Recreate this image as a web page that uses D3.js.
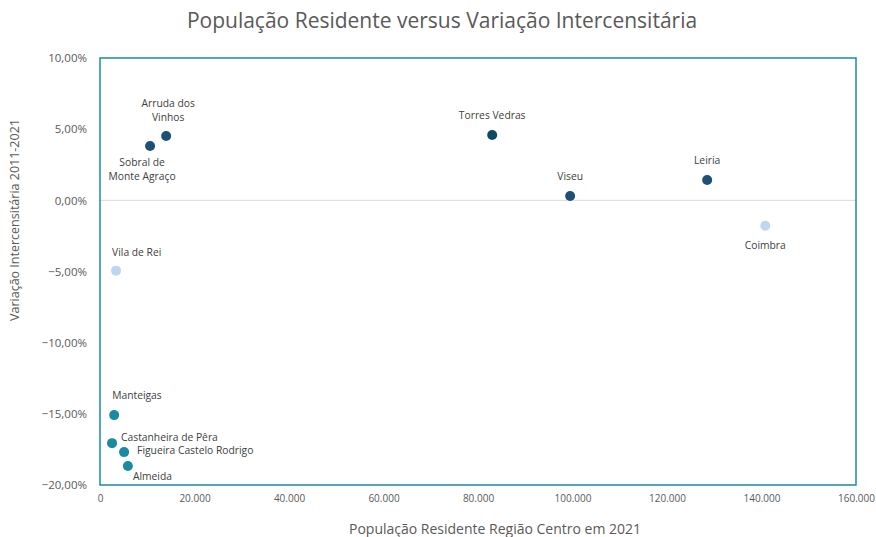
<!DOCTYPE html>
<html>
<head>
<meta charset="utf-8">
<script src="https://cdn.jsdelivr.net/npm/d3@7"></script>
<style>
  html, body { margin: 0; padding: 0; background: #fff; }
  svg { display: block; font-family: "Open Sans", "Noto Sans", sans-serif; }
</style>
</head>
<body>
<svg id="chart" width="876" height="537"></svg>
<script>
// Municipalities: resident population (2021) and intercensal change 2011-2021
const municipios = ["Arruda dos Vinhos", "Sobral de Monte Agraço", "Torres Vedras", "Viseu", "Leiria",
  "Coimbra", "Vila de Rei", "Manteigas", "Castanheira de Pêra", "Figueira Castelo Rodrigo", "Almeida"];
const populacao = [14000, 10600, 83000, 99500, 128500, 140800, 3400, 3000, 2550, 5100, 5900];
const variacao = [0.0452, 0.0382, 0.0459, 0.0030, 0.0143, -0.0178, -0.0494, -0.1509, -0.1706, -0.1769, -0.1867];
const grupo = ["a", "a", "b", "a", "a", "c", "c", "d", "d", "d", "d"];
const xTicks = [0, 20000, 40000, 60000, 80000, 100000, 120000, 140000, 160000];
const yTicks = [0.10, 0.05, 0, -0.05, -0.10, -0.15, -0.20];

// Marker colour per group
const cores = { a: "#1f4e79", b: "#0b4a63", c: "#bdd7ee", d: "#1a8aa0" };

// Label placement relative to each point: [dx, dy, anchor, lines]
const rotulos = {
  "Arruda dos Vinhos": [2, -32, "middle", ["Arruda dos", "Vinhos"]],
  "Sobral de Monte Agraço": [-8, 17, "middle", ["Sobral de", "Monte Agraço"]],
  "Torres Vedras": [0, -19, "middle", ["Torres Vedras"]],
  "Viseu": [0, -19, "middle", ["Viseu"]],
  "Leiria": [0, -19, "middle", ["Leiria"]],
  "Coimbra": [0, 20, "middle", ["Coimbra"]],
  "Vila de Rei": [-4, -18, "start", ["Vila de Rei"]],
  "Manteigas": [-2, -19, "start", ["Manteigas"]],
  "Castanheira de Pêra": [9, -5, "start", ["Castanheira de Pêra"]],
  "Figueira Castelo Rodrigo": [13, -1, "start", ["Figueira Castelo Rodrigo"]],
  "Almeida": [5, 11, "start", ["Almeida"]]
};

const svg = d3.select("#chart");
const m = { left: 100, right: 856, top: 58, bottom: 485 };

const x = d3.scaleLinear().domain([0, 160000]).range([m.left, m.right]);
const y = d3.scaleLinear().domain([-0.20, 0.10]).range([m.bottom, m.top]);

const fmtX = v => d3.format(",")(v).replace(/,/g, ".");
const fmtY = v => d3.format(".2f")(v * 100).replace(".", ",") + "%";

// Title
svg.append("text")
  .attr("x", 442).attr("y", 28)
  .attr("text-anchor", "middle")
  .attr("font-size", 21)
  .attr("fill", "#595959")
  .text("População Residente versus Variação Intercensitária");

// Zero reference line
svg.append("line")
  .attr("x1", m.left).attr("x2", m.right)
  .attr("y1", y(0)).attr("y2", y(0))
  .attr("stroke", "#d9d9d9").attr("stroke-width", 1);

// Y axis labels
const yAxis = d3.axisLeft(y).tickValues(yTicks).tickFormat(fmtY).tickSize(0).tickPadding(13);
const gy = svg.append("g").attr("transform", `translate(${m.left},0)`).call(yAxis);
gy.select(".domain").remove();
gy.selectAll("text").attr("font-size", 11.5).attr("fill", "#595959")
  .attr("font-family", "'Open Sans', sans-serif");

// X axis labels
const xAxis = d3.axisBottom(x).tickValues(xTicks).tickFormat(fmtX).tickSize(0).tickPadding(10);
const gx = svg.append("g").attr("transform", `translate(0,${m.bottom})`).call(xAxis);
gx.select(".domain").remove();
gx.selectAll("text").attr("font-size", 10).attr("fill", "#595959")
  .attr("font-family", "'Open Sans', sans-serif");

// Plot frame
svg.append("rect")
  .attr("x", m.left).attr("y", m.top)
  .attr("width", m.right - m.left).attr("height", m.bottom - m.top)
  .attr("fill", "none").attr("stroke", "#1a8ca3").attr("stroke-width", 1.5);

// Axis titles
svg.append("text")
  .attr("x", 495).attr("y", 534)
  .attr("text-anchor", "middle")
  .attr("font-size", 14).attr("fill", "#595959")
  .text("População Residente Região Centro em 2021");

svg.append("text")
  .attr("transform", `translate(19,220) rotate(-90)`)
  .attr("text-anchor", "middle")
  .attr("font-size", 12.5).attr("fill", "#595959")
  .text("Variação Intercensitária 2011-2021");

// Points
const dados = municipios.map((nome, i) => ({ nome, pop: populacao[i], varr: variacao[i], g: grupo[i] }));

svg.append("g").selectAll("circle")
  .data(dados).join("circle")
  .attr("cx", d => x(d.pop))
  .attr("cy", d => y(d.varr))
  .attr("r", 5)
  .attr("fill", d => cores[d.g]);

// Data labels
const gl = svg.append("g").attr("font-size", 10.3).attr("fill", "#404040");
dados.forEach(d => {
  const [dx, dy, anchor, linhas] = rotulos[d.nome];
  const t = gl.append("text")
    .attr("x", x(d.pop) + dx)
    .attr("y", y(d.varr) + dy)
    .attr("text-anchor", anchor)
    .attr("dominant-baseline", "middle");
  linhas.forEach((l, k) => {
    t.append("tspan").attr("x", x(d.pop) + dx).attr("dy", k === 0 ? 0 : 14).text(l);
  });
});
</script>
</body>
</html>
